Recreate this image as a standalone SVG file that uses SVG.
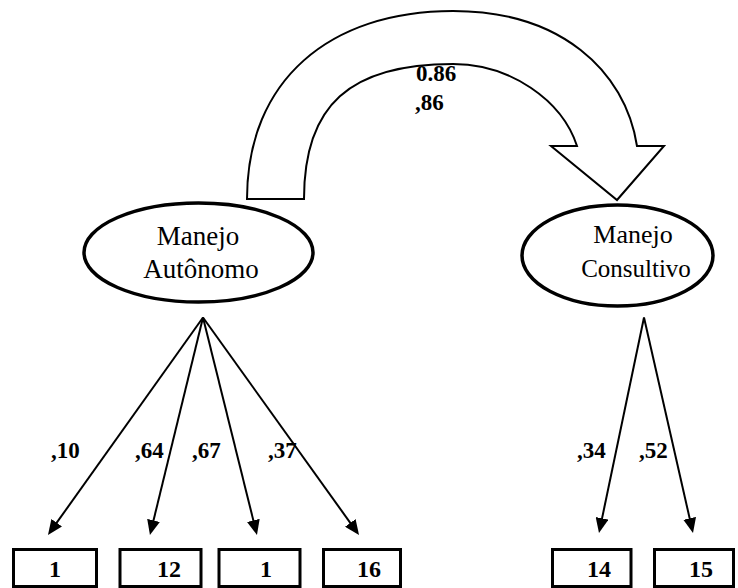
<svg xmlns="http://www.w3.org/2000/svg" width="738" height="588" viewBox="0 0 738 588">
  <style>
    .latent { fill: #fff; stroke: #000; stroke-width: 3.5; }
    .item { fill: #fff; stroke: #000; stroke-width: 3; }
    .name { font-family: "Liberation Serif", "Times New Roman", serif; font-size: 26px; fill: #000; text-anchor: middle; }
    .num { font-family: "Liberation Serif", "Times New Roman", serif; font-size: 23px; font-weight: bold; fill: #000; }
    .box { font-size: 24px; text-anchor: middle; }
    .link { stroke: #000; stroke-width: 2; fill: none; marker-end: url(#head); }
  </style>
  <defs>
    <marker id="head" viewBox="0 0 15 13" refX="11" refY="6.5" markerWidth="15" markerHeight="13" markerUnits="userSpaceOnUse" orient="auto">
      <path d="M0,0 L15,6.5 L0,13 Z" fill="#000"/>
    </marker>
  </defs>
  <rect width="738" height="588" fill="#fff"/>

  <!-- block arrow between the two factors -->
  <g id="corr">
    <path d="M247,199 C247,80 330,11 453,11 C560,11 625,70 637,146 L664,146 L617,200 L551,146 L577,146 C562,100 510,64 453,64 C350,64 304,105 304,199 Z" fill="#fff" stroke="#000" stroke-width="2" stroke-linejoin="miter"/>
    <text class="num" x="416" y="81">0.86</text>
    <text class="num" x="415" y="110">,86</text>
  </g>

  <g id="f-autonomo">
    <ellipse class="latent" cx="198.5" cy="252.5" rx="114.5" ry="49.5"/>
    <text class="name" x="198" y="245" style="font-size:27px">Manejo</text>
    <text class="name" x="201" y="278" style="font-size:27px">Autônomo</text>
  </g>

  <g id="f-consultivo">
    <ellipse class="latent" cx="617.5" cy="255.5" rx="95.5" ry="50.5"/>
    <text class="name" x="633" y="243">Manejo</text>
    <text class="name" x="636" y="277" style="font-size:25px">Consultivo</text>
  </g>

  <g id="connectors">
    <line class="link" x1="203" y1="317.5" x2="50.3" y2="531.7"/>
    <line class="link" x1="203" y1="317.5" x2="150.9" y2="531.1"/>
    <line class="link" x1="203" y1="317.5" x2="256.0" y2="531.1"/>
    <line class="link" x1="203" y1="317.5" x2="356.7" y2="531.8"/>
    <line class="link" x1="644" y1="317.5" x2="599.8" y2="529.1"/>
    <line class="link" x1="644" y1="317.5" x2="692.1" y2="529.1"/>
    <text class="num" x="51" y="458">,10</text>
    <text class="num" x="135" y="458">,64</text>
    <text class="num" x="192" y="458">,67</text>
    <text class="num" x="268" y="458">,37</text>
    <text class="num" x="577" y="458">,34</text>
    <text class="num" x="639" y="458">,52</text>
  </g>

  <g id="item-1a">
    <rect class="item" x="13.5" y="549.5" width="83" height="37"/>
    <text class="num box" x="55" y="577">1</text>
  </g>
  <g id="item-12">
    <rect class="item" x="120" y="549.5" width="81" height="37"/>
    <text class="num box" x="169" y="577">12</text>
  </g>
  <g id="item-1b">
    <rect class="item" x="219" y="549.5" width="81" height="37"/>
    <text class="num box" x="266" y="577">1</text>
  </g>
  <g id="item-16">
    <rect class="item" x="323.5" y="549.5" width="77" height="37"/>
    <text class="num box" x="369" y="577">16</text>
  </g>
  <g id="item-14">
    <rect class="item" x="552.5" y="549.5" width="78.5" height="37"/>
    <text class="num box" x="599" y="577">14</text>
  </g>
  <g id="item-15">
    <rect class="item" x="654.5" y="549.5" width="79" height="37"/>
    <text class="num box" x="701" y="577">15</text>
  </g>
</svg>
